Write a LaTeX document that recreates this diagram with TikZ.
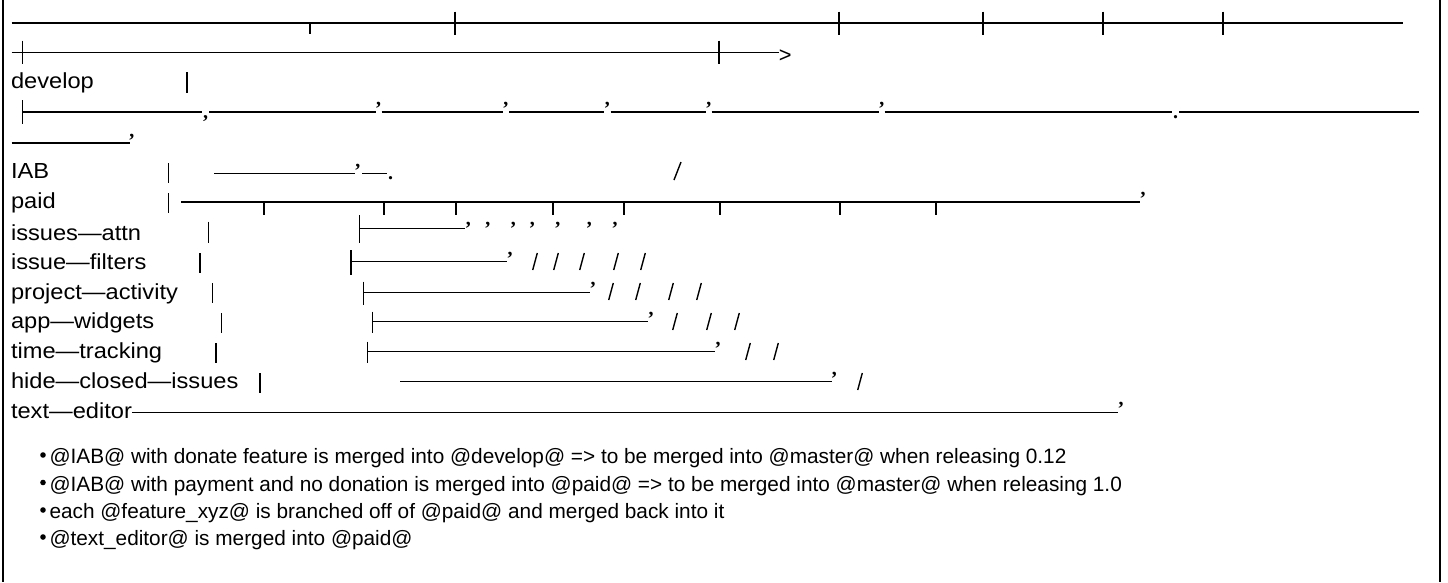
\documentclass[tikz,border=0pt]{standalone}
\usepackage{fontspec}
\usepackage{graphicx}
\setmainfont{Liberation Sans}
\newfontfamily\qfont{Liberation Serif}
\usetikzlibrary{calc}
\newcommand{\labfont}{\fontsize{21.8}{25}\selectfont}
\newcommand{\bulfont}{\fontsize{20.8}{25}\selectfont}
\newcommand{\lab}[1]{\scalebox{1.085}[1]{#1}}
\newcommand{\qmark}[3]{\node[qt] (#1) at (#2,#3) {’};}
\newcommand{\slmark}[3]{\draw[sl] ({#1-2.3},#3) -- ({#1+2.3},#2);}
\begin{document}
\begin{tikzpicture}[x=1pt,y=-1pt,
  ln/.style={line width=1.5pt},
  sl/.style={line width=1.4pt},
  lbl/.style={font=\labfont, anchor=base west, inner sep=0pt, outer sep=0pt},
  qt/.style={font=\qfont\bfseries\fontsize{20}{24}\selectfont, anchor=base, inner sep=0pt, outer sep=0pt},
  bul/.style={font=\bulfont, anchor=base west, inner sep=0pt, outer sep=0pt},
  dot/.style={circle, fill=black, inner sep=0pt, minimum size=5.6pt}]
\useasboundingbox (0,0) rectangle (1448,582);
% frame
\draw[ln] (3,0) -- (3,582);
\draw[ln] (1440,0) -- (1440,582);
% row 1
\draw[ln] (11.5,23) -- (1403,23);
\draw[ln] (310,23) -- (310,34.3);
\foreach \x in {455,839,983,1103,1223} \draw[ln] (\x,11.5) -- (\x,34.5);
% row 2
\draw[ln] (11.5,52.3) -- (779,52.3);
\foreach \x in {22.7,719} \draw[ln] (\x,40.7) -- (\x,64);
\node[lbl] (arrowhead) at (778.8,62) {>};
% develop
\node[lbl] (develop) at (11,88.7) {\lab{develop}};
\draw[ln] (187,72) -- (187,93.3);
% row 4
\draw[ln] (22.7,100) -- (22.7,124);
\draw[ln] (22.7,112) -- (202,112);
\draw[ln] (209,112) -- (375.5,112);
\draw[ln] (381.5,112) -- (502.7,112);
\draw[ln] (509,112) -- (604,112);
\draw[ln] (610.5,112) -- (706,112);
\draw[ln] (711.5,112) -- (879,112);
\draw[ln] (884.5,112) -- (1172,112);
\draw[ln] (1179,112) -- (1419,112);
\node[qt] (c4a) at (205.5,118.3) {,};
\qmark{q4a}{378.5}{115.5}
\qmark{q4b}{505.7}{115.5}
\qmark{q4c}{607.2}{115.5}
\qmark{q4d}{708.7}{115.5}
\qmark{q4e}{881.8}{115.5}
\node[qt] (p4a) at (1175.7,118.4) {.};
% row 5 (wrapped)
\draw[ln] (11.5,143) -- (129.5,143);
\qmark{q5a}{131.7}{147.5}
% IAB
\node[lbl] (iab) at (11,178.7) {\lab{IAB}};
\draw[ln] (168.3,163.3) -- (168.3,183.3);
\draw[ln] (214,173.3) -- (355,173.3);
\qmark{q6a}{357.8}{177.5}
\draw[ln] (362,173.3) -- (387,173.3);
\node[qt] (p6a) at (390.5,179.4) {.};
\draw[sl] (674,180) -- (681,162);
% paid
\node[lbl] (paid) at (11,208.7) {\lab{paid}};
\draw[ln] (168.3,193.3) -- (168.3,213.3);
\draw[ln] (181,202) -- (1140,202);
\foreach \x in {264,384,456,553,624,720,840,936} \draw[ln] (\x,202) -- (\x,214.7);
\qmark{q7a}{1143}{205.5}
% issues-attn
\node[lbl] (attn) at (11,240) {\lab{issues—attn}};
\draw[ln] (208.3,221.7) -- (208.3,243.3);
\draw[ln] (359.3,215) -- (359.3,243);
\draw[ln] (359.3,228.3) -- (465,228.3);
\foreach \x [count=\i] in {468.3,487.7,513.3,532.3,557.7,589.3,615} {\qmark{q8\i}{\x}{235}}
% issue-filters
\node[lbl] (filters) at (11,269) {\lab{issue—filters}};
\draw[ln] (200,253) -- (200,273);
\draw[ln] (351,250) -- (351,274.5);
\draw[ln] (351,261.7) -- (507,261.7);
\qmark{q9a}{510}{265.5}
\foreach \x in {535,556,582,616,643} {\slmark{\x}{253}{270}}
% project-activity
\node[lbl] (project) at (11,299) {\lab{project—activity}};
\draw[ln] (212.3,283.3) -- (212.3,303.3);
\draw[ln] (363.3,281.7) -- (363.3,305);
\draw[ln] (363.3,292.3) -- (590,292.3);
\qmark{q10a}{593}{295.5}
\foreach \x in {611,638,671,699} {\slmark{\x}{283}{300}}
% app-widgets
\node[lbl] (widgets) at (11,328.7) {\lab{app—widgets}};
\draw[ln] (221.7,313.3) -- (221.7,333.3);
\draw[ln] (372.7,311.7) -- (372.7,333.3);
\draw[ln] (372.7,321.7) -- (648,321.7);
\qmark{q11a}{651}{325.5}
\foreach \x in {675,709,737} {\slmark{\x}{313}{330}}
% time-tracking
\node[lbl] (tracking) at (11,358.7) {\lab{time—tracking}};
\draw[ln] (216,343.3) -- (216,363.3);
\draw[ln] (367.7,341.7) -- (367.7,363.3);
\draw[ln] (367.7,351.7) -- (715,351.7);
\qmark{q12a}{718}{355.5}
\foreach \x in {748,776} {\slmark{\x}{343}{360}}
% hide-closed-issues
\node[lbl] (hide) at (11,388.7) {\lab{hide—closed—issues}};
\draw[ln] (260,373.3) -- (260,393.3);
\draw[ln] (400,381.7) -- (832,381.7);
\qmark{q13a}{834.3}{385.5}
\slmark{860}{373}{390}
% text-editor
\node[lbl] (ted) at (11,418.7) {\lab{text—editor}};
\draw[ln] ($(ted.base east)+(0,-6.4)$) -- (1118,412.3);
\qmark{q14a}{1121}{415.5}
% bullets
\node[dot] (b1) at (43,455) {};
\node[bul] (t1) at (49.5,463.5) {@IAB@ with donate feature is merged into @develop@ => to be merged into @master@ when releasing 0.12};
\node[dot] (b2) at (43,482.5) {};
\node[bul] (t2) at (49.5,491) {@IAB@ with payment and no donation is merged into @paid@ => to be merged into @master@ when releasing 1.0};
\node[dot] (b3) at (43,510) {};
\node[bul] (t3) at (49.5,518.5) {each @feature\_xyz@ is branched off of @paid@ and merged back into it};
\node[dot] (b4) at (43,537) {};
\node[bul] (t4) at (49.5,545.5) {@text\_editor@ is merged into @paid@};
\end{tikzpicture}
\end{document}
